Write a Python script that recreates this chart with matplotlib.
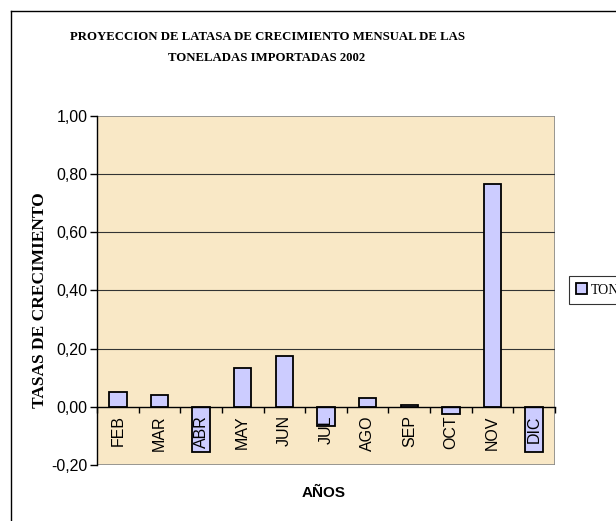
import numpy as np
import matplotlib.pyplot as plt
from matplotlib.patches import Rectangle
from matplotlib.lines import Line2D

meses = ["FEB", "MAR", "ABR", "MAY", "JUN", "JUL", "AGO", "SEP", "OCT", "NOV", "DIC"]
tasas = [0.05, 0.04, -0.155, 0.133, 0.175, -0.065, 0.03, 0.007, -0.023, 0.766, -0.154]
yticks = [-0.2, 0.0, 0.2, 0.4, 0.6, 0.8, 1.0]

fig = plt.figure(figsize=(6.16, 5.21), dpi=100)
ax = fig.add_axes([0.1575, 0.1075, 0.7435, 0.67])
ax.set_facecolor("#F9E8C6")

x = np.arange(len(meses))
ax.bar(x, tasas, width=0.42, color="#CCCCFF", edgecolor="black", linewidth=1.3,
       label="TONELADAS", zorder=2)

ax.set_xlim(-0.5, len(meses) - 0.5)
ax.set_ylim(-0.2, 1.0)

# lineas de division
for v in yticks[2:-1]:
    ax.axhline(v, color="#333333", linewidth=0.8, zorder=1)

# eje en cero
ax.spines["bottom"].set_position(("data", 0))
ax.spines["bottom"].set_linewidth(1.0)
ax.spines["top"].set_visible(False)
ax.spines["right"].set_visible(False)
ax.spines["left"].set_linewidth(1.0)
ax.xaxis.set_zorder(4)
ax.add_patch(Rectangle((0, 0), 1, 1, transform=ax.transAxes, fill=False,
                       edgecolor="#888888", linewidth=1.2, zorder=0.5))

ax.set_xticks(np.arange(len(meses) + 1) - 0.5)
ax.set_xticklabels([])
ax.set_xticks(x, minor=True)
ax.set_xticklabels(meses, minor=True, rotation=90, fontsize=11.5, family="Liberation Sans")
ax.tick_params(axis="x", which="major", direction="out", length=4, width=1)
ax.tick_params(axis="x", which="minor", length=0, pad=6)

ax.set_yticks(yticks)
ax.set_yticklabels([f"{v:.2f}".replace(".", ",") for v in yticks], fontsize=11.5,
                   family="Liberation Sans")
ax.tick_params(axis="y", direction="out", length=5, width=1, pad=2)

fig.text(267 / 616, 1 - 47 / 521,
         "PROYECCION DE LATASA DE CRECIMIENTO MENSUAL DE LAS\nTONELADAS IMPORTADAS 2002",
         ha="center", va="center", fontsize=9.2, fontweight="bold", family="Liberation Serif",
         linespacing=2.0)
fig.text(40 / 616, 1 - 300 / 521, "TASAS DE CRECIMIENTO", rotation=90, ha="center", va="center",
         fontsize=12.5, fontweight="bold", family="Liberation Serif")
fig.text(324 / 616, 1 - 493 / 521, "AÑOS", ha="center", va="center", fontsize=11, fontweight="bold",
         family="Liberation Sans")

leg = fig.legend(loc="center left", bbox_to_anchor=(569 / 616, 1 - 290 / 521), frameon=True,
                 fancybox=False, edgecolor="black", prop={"family": "Liberation Serif", "size": 10},
                 handlelength=0.8, handleheight=0.8, handletextpad=0.3, borderpad=0.5,
                 borderaxespad=0)
leg.get_frame().set_linewidth(0.8)

# borde del area del grafico
fig.add_artist(Line2D([11 / 616, 11 / 616], [0, 1 - 11 / 521], transform=fig.transFigure,
                      color="black", linewidth=1))
fig.add_artist(Line2D([11 / 616, 1], [1 - 11 / 521, 1 - 11 / 521], transform=fig.transFigure,
                      color="black", linewidth=1))

fig.savefig("out.png", dpi=100)
